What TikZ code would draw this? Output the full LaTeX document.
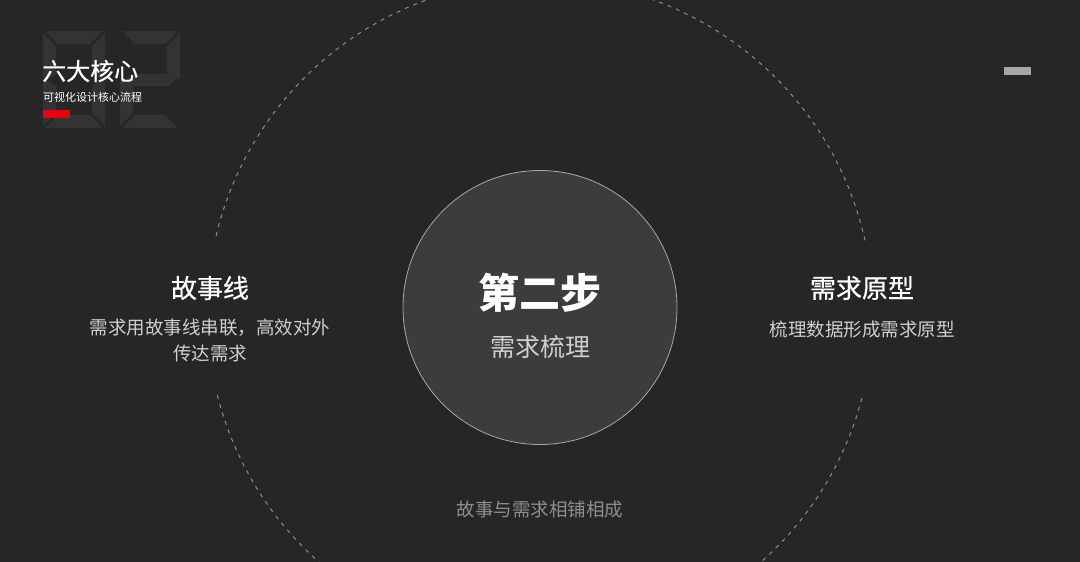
\documentclass[tikz,border=0pt]{standalone}
\usepackage{fontspec}
\newfontfamily\cjk{Noto Sans CJK SC}
\newfontfamily\cjkmid[FakeBold=0.6]{Noto Sans CJK SC}
\usetikzlibrary{calc}
\definecolor{bg}{HTML}{262626}
\definecolor{digit}{HTML}{333333}
\definecolor{innerfill}{HTML}{3C3C3C}
\definecolor{innerline}{HTML}{A8A8A8}
\definecolor{dashc}{HTML}{8C8C8C}
\definecolor{subtxt}{HTML}{CFCFCF}
\definecolor{bottxt}{HTML}{8E8E8E}
\definecolor{redbar}{HTML}{E60012}
\definecolor{graybar}{HTML}{A6A6A6}
\tikzset{
  seg/.style={fill=digit, draw=none},
  title/.style={text=white, font=\cjkmid\fontsize{26}{30}\selectfont, inner sep=0pt},
  subline/.style={text=subtxt, font=\cjk\fontsize{18.5}{26}\selectfont, inner sep=0pt, align=center},
  dashring/.style={draw=dashc, line width=1pt, dash pattern=on 4pt off 5pt},
}
\begin{document}
\begin{tikzpicture}[x=1pt,y=-1pt]
\fill[bg] (0,0) rectangle (1080,562);
\useasboundingbox (0,0) rectangle (1080,562);
\clip (0,0) rectangle (1080,562);
% background digits "02"
\fill[seg] (45,31) -- (103,31) -- (90,44) -- (58,44) -- cycle;
\fill[seg] (45,128) -- (103,128) -- (90,115) -- (58,115) -- cycle;
\fill[seg] (43,33) -- (56,46) -- (56,74) -- (49,79) -- (43,79) -- cycle;
\fill[seg] (43,81) -- (49,81) -- (56,86) -- (56,113) -- (43,126) -- cycle;
\fill[seg] (105,33) -- (92,46) -- (92,74) -- (99,79) -- (105,79) -- cycle;
\fill[seg] (105,81) -- (99,81) -- (92,86) -- (92,113) -- (105,126) -- cycle;
\fill[seg] (122,31) -- (178,31) -- (165,44) -- (135,44) -- cycle;
\fill[seg] (180,33) -- (167,46) -- (167,74) -- (174,79) -- (180,79) -- cycle;
\fill[seg] (125,80) -- (132,74) -- (168,74) -- (175,80) -- (168,86) -- (132,86) -- cycle;
\fill[seg] (120,81) -- (126,81) -- (133,86) -- (133,113) -- (120,126) -- cycle;
\fill[seg] (122,128) -- (178,128) -- (165,115) -- (135,115) -- cycle;
% dashed ring
\coordinate (C) at (540,313);
\draw[dashring] ($(C)+(12.6:333pt)$) arc[start angle=12.6, end angle=166.8, radius=333pt];
\draw[dashring] ($(C)+(194.3:333pt)$) arc[start angle=194.3, end angle=345.7, radius=333pt];
% central circle
\node[circle, minimum size=274pt, fill=innerfill, draw=innerline, line width=0.8pt, inner sep=0pt] (core) at (540,307.5) {};
\node[text=white, font=\cjk\bfseries\fontsize{41}{45}\selectfont, inner sep=0pt] (step) at (540,293) {第二步};
\node[text=subtxt, font=\cjk\fontsize{25}{30}\selectfont, inner sep=0pt] (stepsub) at (540,347) {需求梳理};
% left
\node[title] (lt) at (210,288) {故事线};
\node[subline, anchor=north] (ls) at (210,319) {需求用故事线串联，高效对外\\传达需求};
% right
\node[title] (rt) at (862,288) {需求原型};
\node[subline] (rs) at (862,329) {梳理数据形成需求原型};
% bottom
\node[text=bottxt, font=\cjk\fontsize{18.5}{22}\selectfont, inner sep=0pt] (bt) at (540,510) {故事与需求相铺相成};
% header
\node[text=white, font=\cjkmid\fontsize{24}{26}\selectfont, inner sep=0pt, anchor=west] (hd) at (42,71) {六大核心};
\node[text=white, font=\cjk\fontsize{11}{13}\selectfont, inner sep=0pt, anchor=west] (hs) at (43,97) {可视化设计核心流程};
\fill[redbar] (43,110) rectangle (70,118);
\fill[graybar] (1004,67) rectangle (1031,75);
\end{tikzpicture}
\end{document}
